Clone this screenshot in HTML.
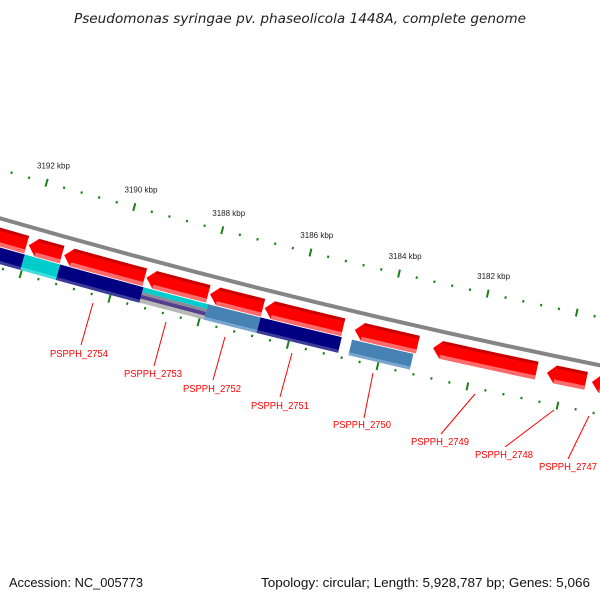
<!DOCTYPE html>
<html><head><meta charset="utf-8"><style>
body{margin:0;background:#fff;}
svg{display:block;font-family:"Liberation Sans","DejaVu Sans",sans-serif;}
</style></head><body>
<svg id="map" width="600" height="600" viewBox="0 0 600 600">
<rect width="600" height="600" fill="#fff"/>
<text x="300" y="23" text-anchor="middle" font-size="13" font-style="italic" fill="#222" font-family="DejaVu Sans, sans-serif" textLength="452" lengthAdjust="spacingAndGlyphs">Pseudomonas syringae pv. phaseolicola 1448A, complete genome</text>
<text x="9" y="587" font-size="13" fill="#111" textLength="134" lengthAdjust="spacingAndGlyphs">Accession: NC_005773</text>
<text x="261" y="587" font-size="13" fill="#111" textLength="329" lengthAdjust="spacingAndGlyphs">Topology: circular; Length: 5,928,787 bp; Genes: 5,066</text>
<g id="layer"></g>
</svg>
<script>
// data (kbp)
const fwdGeneStart = [3193.6, 3192.0, 3191.2, 3189.34, 3187.91, 3186.68, 3184.66, 3182.91, 3180.37, 3179.37];
const fwdGeneEnd   = [3192.05, 3191.25, 3189.38, 3187.95, 3186.72, 3184.92, 3183.25, 3180.6, 3179.5, 3178.3];
const revGeneStart = [3193.6, 3192.03, 3191.23, 3189.35, 3187.9, 3186.72, 3184.67];
const revGeneEnd   = [3192.03, 3191.23, 3189.35, 3187.9, 3186.72, 3184.9, 3183.3];
const revGeneType  = ["navy", "cyan", "navy", "mixed", "steel", "navy", "steel"];
const majorTicks = [3192, 3190, 3188, 3186, 3184, 3182];
const tickLabels = ["3192 kbp", "3190 kbp", "3188 kbp", "3186 kbp", "3184 kbp", "3182 kbp"];
const geneLabels = ["PSPPH_2754","PSPPH_2753","PSPPH_2752","PSPPH_2751","PSPPH_2750","PSPPH_2749","PSPPH_2748","PSPPH_2747"];

const NS = "http://www.w3.org/2000/svg";
const layer = document.getElementById("layer");
const cx = 2097, cy = -7044, R = 7559;
function ang(k){ return (15.84 + (k - 3192) * 0.347) * Math.PI / 180; }
function pt(k, r){ const a = ang(k); return [cx - r * Math.sin(a), cy + r * Math.cos(a)]; }
function mk(tag, attrs){ const e = document.createElementNS(NS, tag); for (const k in attrs) e.setAttribute(k, attrs[k]); layer.appendChild(e); return e; }
function band(k1, k2, r1, r2){
  const a = pt(k1, r1), b = pt(k2, r1), c = pt(k2, r2), d = pt(k1, r2);
  return `M${a[0]},${a[1]} A${r1},${r1} 0 0 0 ${b[0]},${b[1]} L${c[0]},${c[1]} A${r2},${r2} 0 0 1 ${d[0]},${d[1]} Z`;
}
// backbone
{
  const a = pt(3194.5, R), b = pt(3177.5, R);
  const e = mk("path", {d: `M${a[0]},${a[1]} A${R},${R} 0 0 0 ${b[0]},${b[1]}`, stroke: "#858585", "stroke-width": 4, fill: "none"});
  
  
}
// ticks
const ru = R - 47, rl = R + 48;
for (let i = 0; i <= 45; i++) {
  const k = 3196 - i * 0.4;
  const isMajor = i % 5 === 0;
  [ru, rl].forEach((r, j) => {
    const len = isMajor ? 4 : 1.2;
    const p1 = pt(k, r - len), p2 = pt(k, r + len);
    const e = mk("line", {x1: p1[0], y1: p1[1], x2: p2[0], y2: p2[1], stroke: "#1a801a", "stroke-width": 2});
    
    
  });
}
majorTicks.forEach((k, i) => {
  const p = pt(k, R - 65);
  const e = mk("text", {x: p[0] + 2, y: p[1] + 3, "text-anchor": "middle", "font-size": 8, fill: "#222"});
  e.textContent = tickLabels[i];
  
  
});
// forward genes
const f1 = R + 9, f2 = R + 27;
fwdGeneStart.forEach((s, i) => {
  const e2 = fwdGeneEnd[i], body = s - 0.18;
  const a = pt(body, f1), b = pt(e2, f1), c = pt(e2, f2), d = pt(body, f2), t = pt(s, (f1 + f2) / 2);
  const g = mk("path", {d: `M${t[0]},${t[1]} L${a[0]},${a[1]} A${f1},${f1} 0 0 0 ${b[0]},${b[1]} L${c[0]},${c[1]} A${f2},${f2} 0 0 1 ${d[0]},${d[1]} Z`, fill: "#ff0000"});
  
  
  const top = mk("path", {d: band(body, e2, f1, f1 + 3), fill: "#c80000"});
  
  
  const bot = mk("path", {d: band(body, e2, f2 - 4, f2), fill: "#ff6a6a"});
  
  
});
// reverse genes
const b1 = R + 28, b2 = R + 44;
const cols = {navy: ["#000080", "#3c3c9a"], cyan: ["#00cccc", "#40dede"], steel: ["#4682b4", "#7aa6d0"]};
revGeneStart.forEach((s, i) => {
  const e2 = revGeneEnd[i], t = revGeneType[i];
  if (t === "mixed") {
    const strips = [[0, 5, "#00cccc"], [5, 8, "#8a8a9a"], [8, 12, "#54408a"], [12, 16, "#b8b8b8"]];
    strips.forEach(st => {
      const e = mk("path", {d: band(s, e2, b1 + st[0], b1 + st[1]), fill: st[2]});
      
      
    });
  } else {
    const e = mk("path", {d: band(s, e2, b1, b2), fill: cols[t][0]});
    
    
    const h = mk("path", {d: band(s, e2, b2 - 3, b2), fill: cols[t][1]});
    
    
  }
});
// gene labels with leader lines
const lab = [[93,303,81,345,50,357],[166,322,154,366,124,377],[225,337,213,380,183,392],[292,353,280,397,251,409],[373,373,364,418,333,428],[475,394,441,434,411,445],[554,410,505,447,475,458],[589,416,568,459,539,470]];
geneLabels.forEach((name, i) => {
  const L = lab[i];
  const l = mk("line", {x1: L[0], y1: L[1], x2: L[2], y2: L[3], stroke: "#ff0000", "stroke-width": 1});
  
  
  const tx = mk("text", {x: L[4], y: L[5], "font-size": 10, fill: "#ff0000", textLength: 58, lengthAdjust: "spacingAndGlyphs"});
  tx.textContent = name;
  
  
});
</script>
</body></html>
